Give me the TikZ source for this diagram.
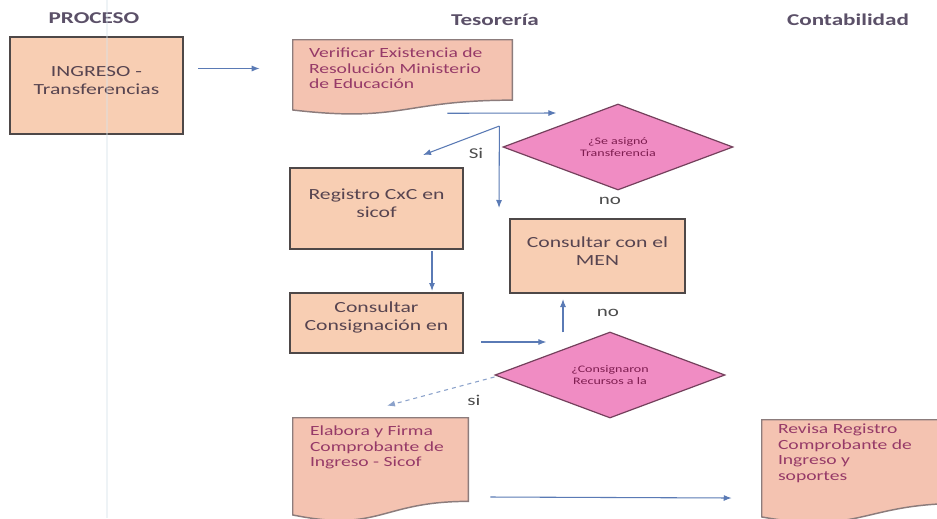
\documentclass[tikz,border=0pt]{standalone}
\usepackage{fontspec}
\setmainfont{Carlito}
\newfontfamily\wf[FakeStretch=1.4]{Carlito}
\usetikzlibrary{arrows.meta,shapes.geometric,calc,fit}
\definecolor{boxfill}{HTML}{F8CEB3}
\definecolor{boxline}{HTML}{4E4848}
\definecolor{boxtext}{HTML}{574450}
\definecolor{docfill}{HTML}{F4C3B1}
\definecolor{docline}{HTML}{8C7C7C}
\definecolor{doctext}{HTML}{963A68}
\definecolor{diafill}{HTML}{F08CC3}
\definecolor{dialine}{HTML}{74405C}
\definecolor{diatext}{HTML}{7E1D50}
\definecolor{arrcol}{HTML}{5A7AB5}
\definecolor{headcol}{HTML}{5B5068}
\definecolor{lblcol}{HTML}{4D4D4D}
\definecolor{vline}{HTML}{D6E2EA}
\newcommand\docshape[1]{%
    \path[docpath] (#1.north west) -- (#1.north east)
      -- ($(#1.north east)!0.8!(#1.south east)$)
      .. controls ($(#1.north)!0.8!(#1.south)$) and ($(#1.north)!1.1!(#1.south)$)
      .. ($(#1.north west)!0.93!(#1.south west)$) -- cycle;}
\begin{document}
\begin{tikzpicture}[x=0.75pt,y=-0.75pt,
  header/.style={font=\wf\bfseries\fontsize{12.4}{14}\selectfont, text=headcol, inner sep=0},
  procbox/.style={draw=boxline, line width=1.5pt, fill=boxfill, inner sep=0, align=center,
    text=boxtext, font=\wf\fontsize{11.6}{13.5}\selectfont},
  docnode/.style={inner sep=0},
  docpath/.style={fill=docfill, draw=docline, line width=1.1pt},
  doctxt/.style={anchor=north west, inner sep=0, align=left, text=doctext,
    font=\wf\fontsize{10.5}{11.6}\selectfont},
  decision/.style={diamond, draw=dialine, line width=0.9pt, fill=diafill, inner sep=0,
    aspect=2.7, minimum width=230*0.75pt, minimum height=86*0.75pt, align=center,
    text=diatext, font=\wf\fontsize{7.5}{9.4}\selectfont},
  lbl/.style={inner sep=0, text=lblcol, font=\wf\fontsize{11.25}{13}\selectfont},
  arr/.style={draw=arrcol, line width=0.8pt, -{Latex[length=6pt,width=4.5pt]}},
  dasharr/.style={draw=arrcol!70, line width=0.8pt, dashed, -{Latex[length=6pt,width=4.5pt]}}
]
\useasboundingbox (0,0) rectangle (937,518);
\clip (0,0) rectangle (937,518);
\fill[white] (0,0) rectangle (937,518);

% headers
\node[header] (hproc) at (94,18) {PROCESO};
\node[header] (htes) at (495,20) {Tesorería};
\node[header] (hcont) at (848,20) {Contabilidad};

% process boxes
\node[procbox, fit={(10,37) (183,134)}] (ing) {INGRESO -\\Transferencias};
\node[procbox, fit={(290,168) (463,249)}] (reg) {Registro CxC en\\sicof};
\node[procbox, fit={(510,219) (685,293)}] (men) {Consultar con el\\MEN};
\node[procbox, fit={(290,293) (463,353)}] (con) {Consultar\\Consignación en};

% documents
\node[docnode, fit={(293,40) (512,115)}] (ver) {};
\docshape{ver}
\node[doctxt] (vert) at ([shift={(16,8)}]ver.north west) {Verificar Existencia de\\Resolución Ministerio\\de Educación};

\node[docnode, fit={(293,418) (468,522)}] (ela) {};
\docshape{ela}
\node[doctxt] (elat) at ([shift={(17,8)}]ela.north west) {Elabora y Firma\\Comprobante de\\Ingreso - Sicof};

\node[docnode, fit={(762,420) (962,524)}] (rev) {};
\docshape{rev}
\node[doctxt] (revt) at ([shift={(16,4)}]rev.north west) {Revisa Registro\\Comprobante de\\Ingreso y\\soportes};

% decisions
\node[decision] (d1) at (618,147) {¿Se asignó\\Transferencia};
\node[decision] (d2) at (610,375) {¿Consignaron\\Recursos a la};

% connectors
\draw[arr] ([shift={(14,-17)}]ing.east) -- ([shift={(-33,-9)}]ver.west);
\draw[arr] ([shift={(-65,-2)}]ver.south east) -- ([shift={(54,-34)}]d1.west);
\coordinate (br) at ([shift={(-3,-21)}]d1.west);
\draw[arr] (br) -- ([shift={(-41,-12)}]reg.north east);
\draw[arr] (br) -- ([shift={(-10,-10)}]men.north west);
\draw[arr] ([shift={(55.5,1)}]reg.south) -- ([shift={(55.5,-1)}]con.north);
\draw[arr] ([shift={(17,19)}]con.east) -- ([shift={(52,-33)}]d2.west);
\draw[arr] ([shift={(-47,1)}]d2.north) -- ([shift={(-34.5,5)}]men.south);
\draw[dasharr] ([shift={(0,2)}]d2.west) -- ([shift={(6.5,-12)}]ela.north);
\draw[arr] ([shift={(22,27)}]ela.east) -- ([shift={(-30,26)}]rev.west);

% labels
\node[lbl] (lsi1) at (476,153) {Si};
\node[lbl] (lno1) at (610,201) {no};
\node[lbl] (lno2) at (608,313) {no};
\node[lbl] (lsi2) at (474,400) {si};

% faint lane line
\draw[vline, line width=2.2pt, opacity=0.4] (107,0) -- (107,518);
\end{tikzpicture}
\end{document}
